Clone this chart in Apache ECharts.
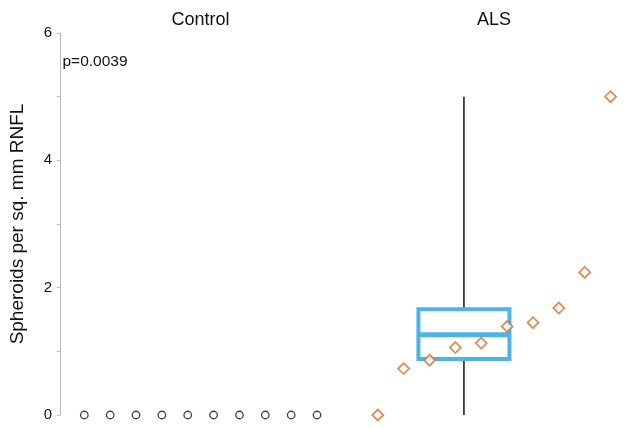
<!DOCTYPE html>
<html>
<head>
<meta charset="utf-8">
<script src="https://cdn.jsdelivr.net/npm/echarts@6/dist/echarts.min.js"></script>
<style>html,body{margin:0;padding:0;background:#fff}#c{width:632px;height:428px}</style>
</head>
<body>
<div id="c"></div>
<script>
// ---- data ----
var groups = ['Control', 'ALS'];
var controlValues = [0, 0, 0, 0, 0, 0, 0, 0, 0, 0];
var alsValues = [0, 0.73, 0.86, 1.06, 1.13, 1.39, 1.45, 1.68, 2.24, 5.0];
// ALS box summary: [min, Q1, median, Q3, max]
var alsBox = [0, 0.88, 1.26, 1.66, 5.0];
var yTicks = [0, 2, 4, 6];
var pText = 'p=0.0039';
var yName = 'Spheroids per sq. mm RNFL';

// ---- layout (x slot positions in axis units) ----
var controlStart = 0.94, alsStart = 12.29, boxCenter = 15.62, boxHalf = 1.76;
var xMax = 572 / 25.86;

var controlData = controlValues.map(function (v, i) { return [controlStart + i, v]; });
var alsData = alsValues.map(function (v, i) { return [alsStart + i, v]; });

var font = 'Liberation Sans, Arial, Helvetica, sans-serif';
var chart = echarts.init(document.getElementById('c'), null, { renderer: 'canvas' });
chart.setOption({
  animation: false,
  backgroundColor: '#fff',
  textStyle: { fontFamily: font },
  graphic: [
    { type: 'text', x: 200.5, y: 20.5, style: { text: groups[0], textAlign: 'center', textVerticalAlign: 'middle',
      font: '18px ' + font, fill: '#111' } },
    { type: 'text', x: 494, y: 20.5, style: { text: groups[1], textAlign: 'center', textVerticalAlign: 'middle',
      font: '18px ' + font, fill: '#111' } },
    { type: 'text', x: 62.5, y: 61.5, style: { text: pText, textAlign: 'left', textVerticalAlign: 'middle',
      font: '15.5px ' + font, fill: '#111' } }
  ],
  grid: { left: 60, right: 0, top: 33, bottom: 13 },
  xAxis: { type: 'value', min: 0, max: xMax, show: false },
  yAxis: {
    type: 'value', min: 0, max: 6, interval: 1,
    name: yName, nameLocation: 'middle', nameGap: 33, nameRotate: 90,
    nameTextStyle: { fontFamily: font, fontSize: 19, color: '#111' },
    axisLine: { show: true, lineStyle: { color: '#bbbbbb', width: 1 } },
    axisTick: { show: true, length: 3, lineStyle: { color: '#bbbbbb' } },
    axisLabel: {
      fontFamily: font, fontSize: 15, color: '#111', margin: 8,
      formatter: function (v) { return yTicks.indexOf(v) >= 0 ? String(v) : ''; }
    },
    splitLine: { show: false }
  },
  series: [
    {
      type: 'custom',
      z: 1,
      data: [[boxCenter].concat(alsBox)],
      renderItem: function (params, api) {
        var x = api.value(0);
        var pMin = api.coord([x, api.value(1)]);
        var pQ1 = api.coord([x, api.value(2)]);
        var pMed = api.coord([x, api.value(3)]);
        var pQ3 = api.coord([x, api.value(4)]);
        var pMax = api.coord([x, api.value(5)]);
        var left = api.coord([x - boxHalf, 0])[0];
        var right = api.coord([x + boxHalf, 0])[0];
        var blue = '#4fb3e6';
        return {
          type: 'group',
          children: [
            { type: 'line', shape: { x1: pMin[0], y1: pMin[1], x2: pMax[0], y2: pMax[1] },
              style: { stroke: '#222', lineWidth: 1.6 } },
            { type: 'rect', shape: { x: left, y: pQ3[1], width: right - left, height: pQ1[1] - pQ3[1] },
              style: { fill: '#fff', stroke: blue, lineWidth: 4 } },
            { type: 'line', shape: { x1: left, y1: pMed[1], x2: right, y2: pMed[1] },
              style: { stroke: blue, lineWidth: 5 } }
          ]
        };
      }
    },
    {
      type: 'scatter', z: 3, data: controlData, symbol: 'circle', symbolSize: 7.5,
      itemStyle: { color: '#fff', borderColor: '#111', borderWidth: 1.3 }
    },
    {
      type: 'scatter', z: 3, data: alsData, symbol: 'diamond', symbolSize: 11,
      itemStyle: { color: '#fff', borderColor: '#d4732c', borderWidth: 1.8 }
    }
  ]
});
</script>
</body>
</html>
